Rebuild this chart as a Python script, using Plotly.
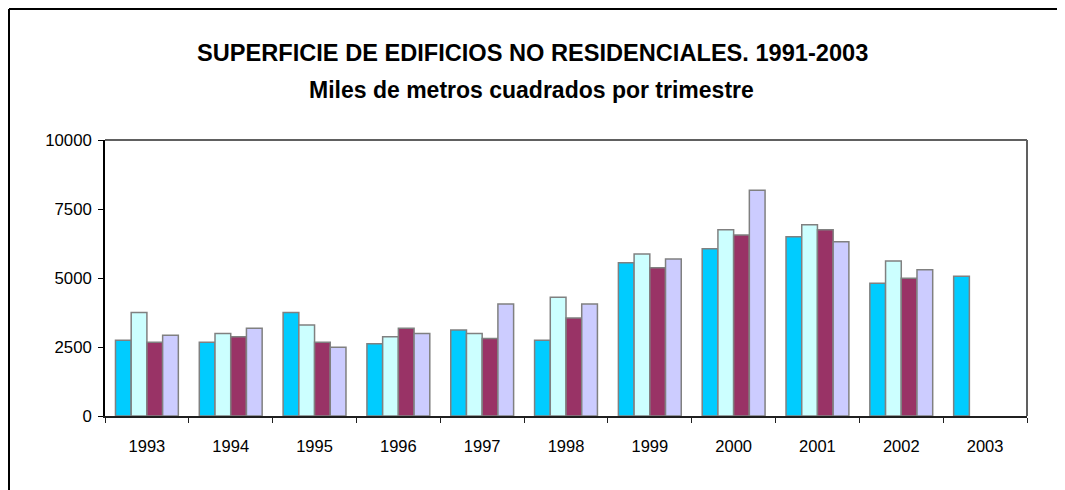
import plotly.graph_objects as go

years = ["1993", "1994", "1995", "1996", "1997", "1998", "1999", "2000", "2001", "2002", "2003"]
q1 = [2747, 2675, 3747, 2614, 3120, 2747, 5554, 6060, 6494, 4807, 5060]
q2 = [3747, 2988, 3301, 2867, 2988, 4301, 5867, 6747, 6928, 5614, None]
q3 = [2675, 2867, 2675, 3181, 2807, 3554, 5373, 6554, 6747, 4988, None]
q4 = [2928, 3181, 2494, 2988, 4060, 4060, 5687, 8181, 6313, 5301, None]
series_names = ["1er trimestre", "2º trimestre", "3er trimestre", "4º trimestre"]
colors = ["#00CCFF", "#CCFFFF", "#993366", "#CCCCFF"]
y_ticks = [0, 2500, 5000, 7500, 10000]
title = "SUPERFICIE DE EDIFICIOS NO RESIDENCIALES. 1991-2003"
subtitle = "Miles de metros cuadrados por trimestre"

FONT = "Liberation Sans, Arial, sans-serif"

fig = go.Figure()
for name, vals, col in zip(series_names, [q1, q2, q3, q4], colors):
    fig.add_trace(go.Bar(
        x=years, y=vals, name=name,
        marker=dict(color=col, line=dict(color="#808080", width=1.5)),
    ))

# page has an 8px body margin, so the figure is drawn offset by 8px
OFF = 8
W, H = 1065 - OFF, 490 - OFF
L, R, T = 105 - OFF, 1065 - 1027, 140 - OFF
B = H - (416 - OFF)
pw, ph = W - L - R, H - T - B

def px(x):
    # x in reference page pixels -> paper coordinate
    return (x - OFF - L) / pw

def py(y):
    return (H - B - (y - OFF)) / ph

fig.update_layout(
    width=W, height=H,
    margin=dict(l=L, r=R, t=T, b=B),
    paper_bgcolor="white", plot_bgcolor="white",
    barmode="group", bargap=0.25, bargroupgap=0,
    showlegend=False,
    font=dict(family=FONT, size=16.5, color="black"),
    annotations=[
        dict(text="<b>" + title + "</b>", xref="paper", yref="paper",
             x=px(532), y=py(53), xanchor="center", yanchor="middle",
             showarrow=False, font=dict(family=FONT, size=23.6, color="black")),
        dict(text="<b>" + subtitle + "</b>", xref="paper", yref="paper",
             x=px(531), y=py(90), xanchor="center", yanchor="middle",
             showarrow=False, font=dict(family=FONT, size=23, color="black")),
    ],
    shapes=[
        # outer chart border: left edge and top edge
        dict(type="line", xref="paper", yref="paper",
             x0=px(OFF + 1), x1=px(OFF + 1), y0=py(OFF + H), y1=py(OFF + 1),
             line=dict(color="black", width=2), layer="below"),
        dict(type="line", xref="paper", yref="paper",
             x0=px(OFF + 1), x1=px(OFF + W - 1), y0=py(OFF + 1), y1=py(OFF + 1),
             line=dict(color="black", width=2), layer="below"),
        # plot area frame top and right
        dict(type="line", xref="paper", yref="paper", x0=0, x1=1, y0=1, y1=1,
             line=dict(color="#606060", width=2)),
        dict(type="line", xref="paper", yref="paper", x0=1, x1=1, y0=0, y1=1,
             line=dict(color="#606060", width=2)),
    ],
)

fig.update_xaxes(
    type="category", showline=True, linecolor="#202020", linewidth=1.5,
    ticks="outside", tickson="boundaries", ticklen=5, tickcolor="#202020",
    showgrid=False, zeroline=False,
    tickfont=dict(family=FONT, size=16.5, color="black"),
    ticklabelstandoff=14,
)
fig.update_yaxes(
    range=[0, 10000], tickvals=y_ticks, ticktext=[str(v) for v in y_ticks],
    showline=True, linecolor="black", linewidth=1.5,
    ticks="outside", ticklen=5, tickcolor="black",
    showgrid=False, zeroline=False,
    tickfont=dict(family=FONT, size=16.8, color="black"),
    ticklabelstandoff=3,
)

fig.write_html("out.html")
